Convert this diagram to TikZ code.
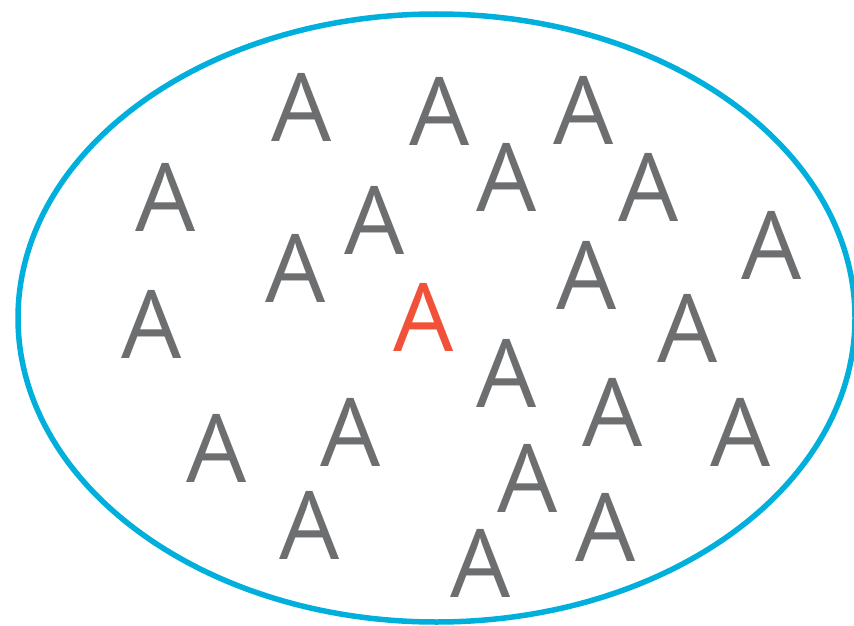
\documentclass[tikz,border=0pt]{standalone}
\usepackage{fontspec}
\setmainfont{Open Sans}
\definecolor{ringblue}{HTML}{00AFDB}
\definecolor{lettergray}{HTML}{6D6E70}
\definecolor{letterred}{HTML}{F05138}
\begin{document}
\begin{tikzpicture}[x=1pt,y=-1pt,
  letter/.style={inner sep=0pt,outer sep=0pt,text=lettergray,font=\fontsize{95}{95}\selectfont},
  oddletter/.style={letter,text=letterred}]
\useasboundingbox (0,0) rectangle (854,626);
\draw[ringblue,line width=5.5pt] (436.5,318) ellipse [x radius=418.5pt,y radius=304pt];
\node[letter] (a1) at (301.5,107) {A};
\node[letter] (a2) at (439.5,111.5) {A};
\node[letter] (a3) at (584,110) {A};
\node[letter] (a4) at (165.5,197) {A};
\node[letter] (a5) at (506.5,177) {A};
\node[letter] (a6) at (648.5,187) {A};
\node[letter] (a7) at (374.5,220) {A};
\node[letter] (a8) at (295.5,268) {A};
\node[letter] (a9) at (586.5,275) {A};
\node[letter] (a10) at (772,245) {A};
\node[letter] (a11) at (152,324) {A};
\node[oddletter] (a12) at (423.5,317.5) {A};
\node[letter] (a13) at (688,328.5) {A};
\node[letter] (a14) at (507,373) {A};
\node[letter] (a15) at (217,448) {A};
\node[letter] (a16) at (350.5,432) {A};
\node[letter] (a17) at (612.5,412) {A};
\node[letter] (a18) at (741,432) {A};
\node[letter] (a19) at (528,478) {A};
\node[letter] (a20) at (310,525) {A};
\node[letter] (a21) at (606,527) {A};
\node[letter] (a22) at (480.5,563) {A};
\end{tikzpicture}
\end{document}
